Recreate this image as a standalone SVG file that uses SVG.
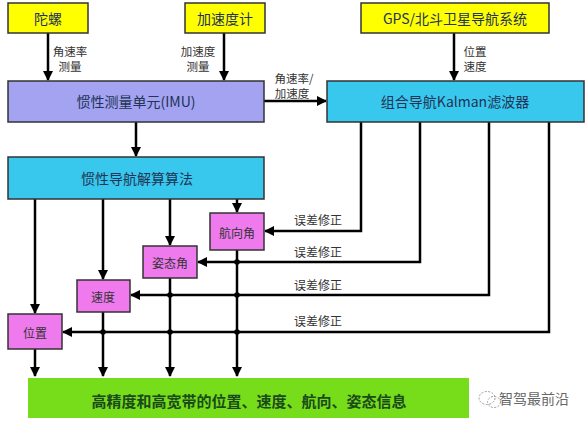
<svg xmlns="http://www.w3.org/2000/svg" width="587" height="425" viewBox="0 0 587 425">
<style>
text{font-family:"Noto Sans CJK SC","Liberation Sans",sans-serif;text-anchor:middle;dominant-baseline:central}
.box{stroke:#333;stroke-width:1.5}
.y{fill:#ffff00}
.p{fill:#a3a3f2}
.c{fill:#38c8ee}
.m{fill:#ee7aee}
.t{font-size:14px;fill:#223355}
.s{font-size:12px;fill:#333}
.l{font-size:11.5px;fill:#333}
.w{font-size:12px;fill:#333}
.ln{stroke:#000;stroke-width:2.5;fill:none}
</style>
<defs>
<marker id="ah" viewBox="0 0 10 10" refX="9" refY="5" markerWidth="4" markerHeight="4" orient="auto" markerUnits="strokeWidth">
<path d="M0,0 L10,5 L0,10 z" fill="#000"/>
</marker>
</defs>
<rect width="587" height="425" fill="#fff"/>
<g id="connectors">
<line class="ln" x1="48" y1="33" x2="48" y2="80" marker-end="url(#ah)"/>
<line class="ln" x1="224" y1="33" x2="224" y2="80" marker-end="url(#ah)"/>
<line class="ln" x1="454" y1="33" x2="454" y2="80" marker-end="url(#ah)"/>
<line class="ln" x1="264" y1="101" x2="326" y2="101" marker-end="url(#ah)"/>
<line class="ln" x1="136" y1="122" x2="136" y2="156" marker-end="url(#ah)"/>
<line class="ln" x1="35" y1="199" x2="35" y2="313" marker-end="url(#ah)"/>
<line class="ln" x1="103" y1="199" x2="103" y2="279" marker-end="url(#ah)"/>
<line class="ln" x1="170" y1="199" x2="170" y2="245" marker-end="url(#ah)"/>
<line class="ln" x1="237" y1="199" x2="237" y2="212" marker-end="url(#ah)"/>
<line class="ln" x1="35" y1="349" x2="35" y2="376" marker-end="url(#ah)"/>
<line class="ln" x1="103" y1="312" x2="103" y2="376" marker-end="url(#ah)"/>
<line class="ln" x1="170" y1="278" x2="170" y2="376" marker-end="url(#ah)"/>
<line class="ln" x1="237" y1="250" x2="237" y2="376" marker-end="url(#ah)"/>
<polyline class="ln" points="361,122 361,231 265,231" marker-end="url(#ah)"/>
<polyline class="ln" points="420,122 420,262 198,262" marker-end="url(#ah)"/>
<polyline class="ln" points="489,122 489,295 131,295" marker-end="url(#ah)"/>
<polyline class="ln" points="549,122 549,332 63,332" marker-end="url(#ah)"/>
<g fill="#000">
<circle cx="237" cy="262" r="2.8"/>
<circle cx="170" cy="295" r="2.8"/>
<circle cx="237" cy="295" r="2.8"/>
<circle cx="103" cy="332" r="2.8"/>
<circle cx="170" cy="332" r="2.8"/>
<circle cx="237" cy="332" r="2.8"/>
</g>
<text class="l" x="70" y="51">角速率</text>
<text class="l" x="70" y="66">测量</text>
<text class="l" x="198" y="51">加速度</text>
<text class="l" x="198" y="66">测量</text>
<text class="l" x="475" y="51">位置</text>
<text class="l" x="475" y="66">速度</text>
<text class="l" x="294" y="78">角速率/</text>
<text class="l" x="292" y="93">加速度</text>
<text class="w" x="318" y="219">误差修正</text>
<text class="w" x="318" y="251">误差修正</text>
<text class="w" x="318" y="284">误差修正</text>
<text class="w" x="318" y="320">误差修正</text>
</g>
<g id="gyro"><rect class="box y" x="8" y="3" width="80" height="30"/><text class="t" x="48" y="18">陀螺</text></g>
<g id="accel"><rect class="box y" x="185" y="3" width="80" height="30"/><text class="t" x="225" y="18">加速度计</text></g>
<g id="gps"><rect class="box y" x="361" y="3" width="188" height="30"/><text class="t" x="455" y="18">GPS/北斗卫星导航系统</text></g>
<g id="imu"><rect class="box p" x="8" y="81" width="256" height="41"/><text class="t" x="136" y="101">惯性测量单元(IMU)</text></g>
<g id="kalman"><rect class="box c" x="327" y="81" width="257" height="41"/><text class="t" x="455" y="101">组合导航Kalman滤波器</text></g>
<g id="ins"><rect class="box c" x="8" y="157" width="256" height="42"/><text class="t" x="137" y="178">惯性导航解算算法</text></g>
<g id="heading"><rect class="box m" x="210" y="213" width="54" height="37"/><text class="s" x="237" y="232">航向角</text></g>
<g id="attitude"><rect class="box m" x="143" y="246" width="54" height="32"/><text class="s" x="170" y="262">姿态角</text></g>
<g id="velocity"><rect class="box m" x="77" y="280" width="53" height="32"/><text class="s" x="103" y="296">速度</text></g>
<g id="position"><rect class="box m" x="8" y="314" width="54" height="35"/><text class="s" x="35" y="332">位置</text></g>
<g id="output"><rect x="28" y="378" width="441" height="40" fill="#77dd1a"/><text x="249" y="400" font-size="15" font-weight="bold" fill="#1a4a1a">高精度和高宽带的位置、速度、航向、姿态信息</text></g>
<g id="watermark">
<ellipse cx="487" cy="398" rx="8" ry="6.5" fill="none" stroke="#999" stroke-width="1" stroke-dasharray="2,1.5"/>
<ellipse cx="494" cy="402" rx="6.5" ry="5.5" fill="none" stroke="#999" stroke-width="1" stroke-dasharray="2,1.5"/>
<text x="534" y="398" font-size="14" fill="#666">智驾最前沿</text>
</g>
</svg>
